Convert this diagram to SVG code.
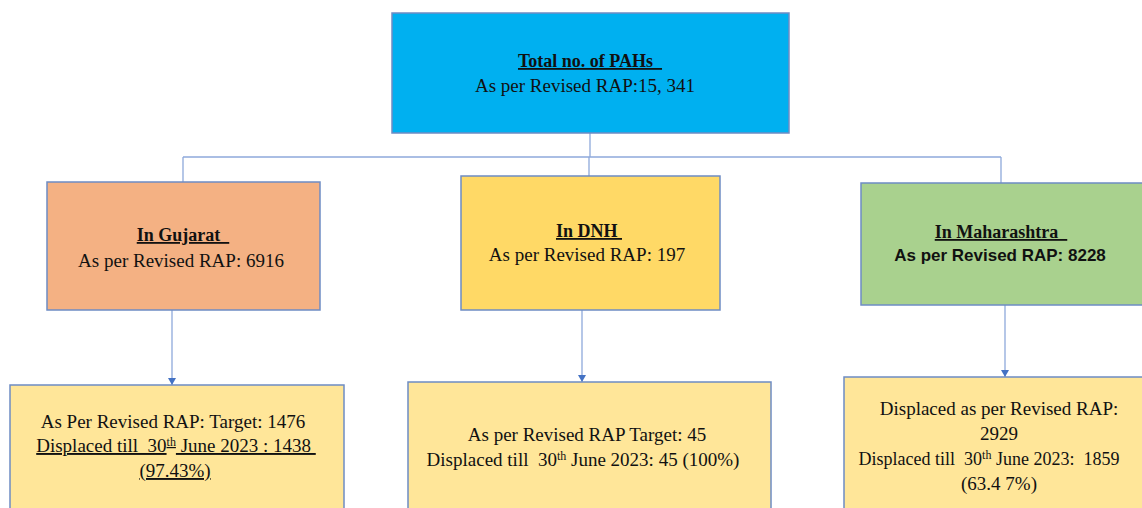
<svg xmlns="http://www.w3.org/2000/svg" width="1142" height="508" viewBox="0 0 1142 508">
<defs>
<marker id="arr" markerWidth="8" markerHeight="8" refX="7" refY="4" orient="auto" markerUnits="userSpaceOnUse">
<path d="M0,0 L7,4 L0,8 Z" fill="#4472C4"/>
</marker>
<style>
.box{stroke:#6E8CC4;stroke-width:1.5}
.t{font-family:"Liberation Serif","Times New Roman",serif;font-size:19px;fill:#111;text-anchor:middle}
.b{font-weight:bold;text-decoration:underline;font-size:18px}
.s{font-family:"Liberation Sans",Arial,sans-serif;font-weight:bold;font-size:17px}
.u{text-decoration:underline}
.c{fill:none;stroke:#8EA9DB;stroke-width:1.3}
.a{fill:none;stroke:#8EA9DB;stroke-width:1.3;marker-end:url(#arr)}
.sup{font-size:12px}
</style>
</defs>
<rect width="1142" height="508" fill="#fff"/>
<g id="connectors">
<path class="c" d="M590,133 V157 M183,157 H1001 M183,157 V182 M589,157 V176 M1001,157 V183"/>
<path class="a" d="M172,310 V385"/>
<path class="a" d="M582,310 V382"/>
<path class="a" d="M1005,305 V377"/>
</g>
<g id="total">
<rect class="box" x="392" y="13" width="397" height="120" fill="#00B0F0"/>
<text class="t b" x="590" y="67" xml:space="preserve">Total no. of PAHs  </text>
<text class="t" x="585" y="92">As per Revised RAP:15, 341</text>
</g>
<g id="gujarat">
<rect class="box" x="47" y="182" width="273" height="128" fill="#F4B183"/>
<text class="t b" x="183" y="241" xml:space="preserve">In Gujarat  </text>
<text class="t" x="181" y="267">As per Revised RAP: 6916</text>
</g>
<g id="dnh">
<rect class="box" x="461" y="176" width="259" height="134" fill="#FFD966"/>
<text class="t b" x="589" y="237" xml:space="preserve">In DNH </text>
<text class="t" x="587" y="261">As per Revised RAP: 197</text>
</g>
<g id="maharashtra">
<rect class="box" x="861" y="183" width="290" height="122" fill="#A9D18E"/>
<text class="t b" x="1001" y="238" xml:space="preserve">In Maharashtra  </text>
<text class="t s" x="1000" y="261">As per Revised RAP: 8228</text>
</g>
<g id="gujarat-status">
<rect class="box" x="10" y="385" width="334" height="130" fill="#FFE699"/>
<text class="t" x="173" y="428">As Per Revised RAP: Target: 1476</text>
<text class="t u" x="176" y="452" xml:space="preserve">Displaced till  30<tspan class="sup" dy="-6">th</tspan><tspan dy="6"> June 2023 : 1438 </tspan></text>
<text class="t u" x="175" y="477">(97.43%)</text>
</g>
<g id="dnh-status">
<rect class="box" x="408" y="382" width="363" height="133" fill="#FFE699"/>
<text class="t" x="587" y="441">As per Revised RAP Target: 45</text>
<text class="t" x="583" y="466" xml:space="preserve">Displaced till  30<tspan class="sup" dy="-6">th</tspan><tspan dy="6"> June 2023: 45 (100%)</tspan></text>
</g>
<g id="maharashtra-status">
<rect class="box" x="844" y="377" width="310" height="140" fill="#FFE699"/>
<text class="t" x="999" y="415">Displaced as per Revised RAP:</text>
<text class="t" x="999" y="440">2929</text>
<text class="t" x="989" y="465" style="font-size:18px" xml:space="preserve">Displaced till  30<tspan class="sup" dy="-6">th</tspan><tspan dy="6"> June 2023:  1859</tspan></text>
<text class="t" x="999" y="490">(63.4 7%)</text>
</g>
</svg>
